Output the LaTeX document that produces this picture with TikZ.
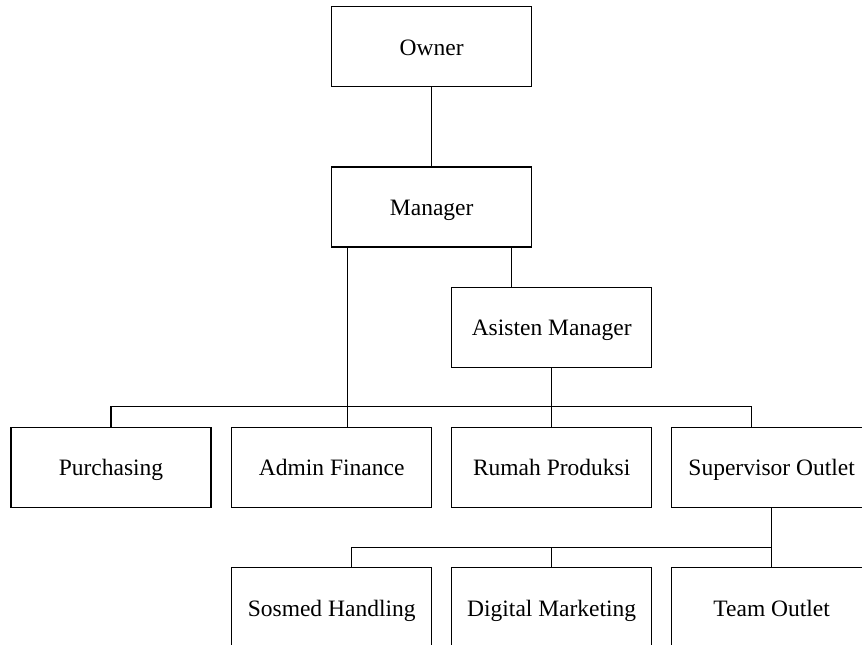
\documentclass[tikz,border=0pt]{standalone}
\usepackage{fontspec}
\setmainfont{Liberation Serif}
\usepackage{tikz}

\begin{document}
\begin{tikzpicture}[x=1pt, y=-1pt,
    box/.style={draw, line width=1.5pt, minimum width=200pt, minimum height=80pt,
        inner sep=0pt, text height=19pt, text depth=2pt,
        font=\fontsize{23.5}{28}\selectfont},
    link/.style={line width=1.5pt}]
    \clip (0,0) rectangle (862,645);
    \coordinate (busA) at (0,406.7);
    \coordinate (busB) at (0,547.7);
    \node (owner) at (431.7,46.7) [box] {Owner};
    \node (manager) at (431.7,207) [box] {Manager};
    \node (asisten) at (551.7,327.3) [box] {Asisten Manager};
    \node (purchasing) at (111,467.3) [box] {Purchasing};
    \node (admin) at (331.7,467.3) [box] {Admin Finance};
    \node (rumah) at (551.7,467.3) [box] {Rumah Produksi};
    \node (supervisor) at (771.7,467.3) [box] {Supervisor Outlet};
    \node (sosmed) at (331.7,607.7) [box] {Sosmed Handling};
    \node (digital) at (551.7,607.7) [box] {Digital Marketing};
    \node (team) at (771.7,607.7) [box] {Team Outlet};
    \draw [link] (owner) -- (manager);
    \draw [link] ([xshift=-84pt]manager.south) -- ([xshift=-84pt]manager.south |- admin.north);
    \draw [link] ([xshift=80pt]manager.south) -- ([xshift=80pt]manager.south |- asisten.north);
    \draw [link] (asisten) -- (rumah);
    \draw [link] (purchasing.north) |- ([xshift=-20pt]supervisor.north |- busA) -- ([xshift=-20pt]supervisor.north);
    \draw [link] (supervisor) -- (team);
    \draw [link] ([xshift=20pt]sosmed.north) |- (team.north |- busB);
    \draw [link] (digital.north) -- (digital.north |- busB);
\end{tikzpicture}
\end{document}
